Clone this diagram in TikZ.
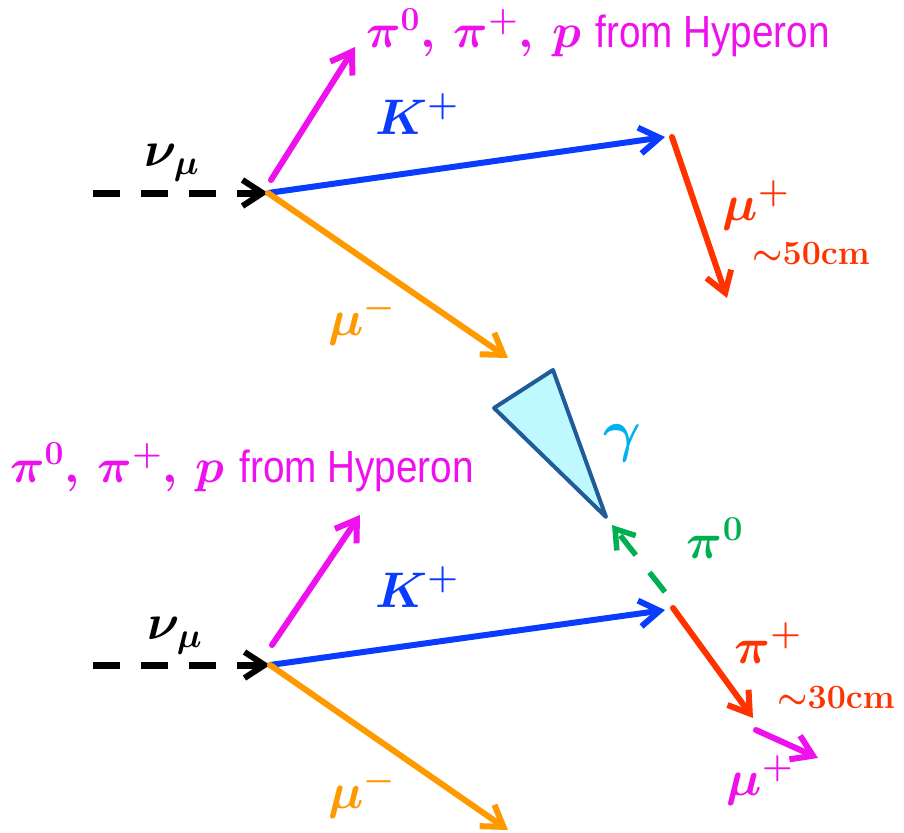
\RequirePackage{fix-cm}
\documentclass[tikz,border=0pt]{standalone}
\usepackage{amsmath}
\usepackage{fontspec}
\newfontfamily\hypfont[FakeStretch=0.86]{Liberation Sans}
\usepackage{tikz}
\usetikzlibrary{arrows.meta, positioning}

\definecolor{trkmag}{HTML}{EE11EE}
\definecolor{trkblue}{HTML}{0A3CFF}
\definecolor{trkorange}{HTML}{FF9900}
\definecolor{trkred}{HTML}{FF3300}
\definecolor{trkgreen}{HTML}{00B050}
\definecolor{gamsky}{HTML}{00B0F0}
\definecolor{showerline}{HTML}{1F5C99}
\definecolor{showerfill}{HTML}{C0F8FF}

\newcommand{\hyptext}{$\boldsymbol{\pi^0,\,\pi^+,\,p}$ {\hypfont\fontsize{45}{47}\selectfont from Hyperon}}

\begin{document}
\begin{tikzpicture}[
  x=1pt, y=-1pt,
  tip/.style={-{Straight Barb[length=20pt, width=26pt, line width=6pt]}},
  trk/.style={line width=6pt, line cap=round, tip},
  nu/.style={line width=7pt, dash pattern=on 27pt off 21pt, tip},
  pizero/.style={line width=5.5pt, dash pattern=on 25pt off 22pt, -{Straight Barb[length=18pt, width=24pt, line width=5.5pt]}},
  lbl/.style={inner sep=0pt, font=\fontsize{50}{54}\selectfont},
  hyp/.style={inner sep=0pt, anchor=base west, trkmag, font=\fontsize{48}{50}\selectfont},
  rng/.style={inner sep=0pt, font=\fontsize{34}{38}\selectfont\bfseries}
]
  \useasboundingbox (0,0) rectangle (904,832);

  % ---- upper event: K+ -> mu+
  \coordinate (nuA) at (93,193);
  \coordinate (vtxA) at (268,193);
  \coordinate (hypA) at (355,47);
  \coordinate (kA) at (665,137);
  \coordinate (kdA) at (672,137);
  \coordinate (muA) at (727,298);
  \coordinate (mumA) at (508,358);

  \draw[nu] (nuA) -- (vtxA);
  \draw[trk, trkmag] ([shift={(3,-13)}]vtxA) -- (hypA);
  \draw[trk, trkblue] (vtxA) -- (kA);
  \draw[trk, trkorange] (vtxA) -- (mumA);
  \draw[trk, trkred] (kdA) -- (muA);

  \node[hyp] (hyplA) at (366,48) {\hyptext};
  \node[lbl] (nulA) at (172,163) {$\boldsymbol{\nu_\mu}$};
  \node[lbl, trkblue] (klA) at (417,114) {$\boldsymbol{K^+}$};
  \node[lbl, trkorange] (mumlA) at (362,320) {$\boldsymbol{\mu^-}$};
  \node[lbl, trkred] (mulA) at (756,205) {$\boldsymbol{\mu^+}$};
  \node[rng, trkred] (rngA) at (811,254) {$\boldsymbol{\sim}$50cm};

  % ---- lower event: K+ -> pi+ pi0
  \coordinate (nuB) at (93,665);
  \coordinate (vtxB) at (270,665);
  \coordinate (hypB) at (360,515);
  \coordinate (kB) at (665,610);
  \coordinate (kdB) at (673,608);
  \coordinate (piB) at (753,718);
  \coordinate (mudB) at (756,730);
  \coordinate (muB) at (818,758);
  \coordinate (mumB) at (508,830);
  \coordinate (pzB) at (665,592);
  \coordinate (gamB) at (612,525);

  \draw[nu] (nuB) -- (vtxB);
  \draw[trk, trkmag] ([shift={(2,-20)}]vtxB) -- (hypB);
  \draw[trk, trkblue] (vtxB) -- (kB);
  \draw[trk, trkorange] (vtxB) -- (mumB);
  \draw[trk, trkred] (kdB) -- (piB);
  \draw[trk, trkmag] (mudB) -- (muB);
  \draw[pizero, trkgreen] (pzB) -- (gamB);

  % photon shower
  \draw[showerline, fill=showerfill, line width=4pt, line join=round]
    (494,408) coordinate (shA) -- (553,370) coordinate (shB) -- (606,517) coordinate (shC) -- cycle;

  \node[hyp] (hyplB) at (10,482) {\hyptext};
  \node[lbl] (nulB) at (175,636) {$\boldsymbol{\nu_\mu}$};
  \node[lbl, trkblue] (klB) at (417,587) {$\boldsymbol{K^+}$};
  \node[lbl, trkorange] (mumlB) at (362,793) {$\boldsymbol{\mu^-}$};
  \node[lbl, gamsky, font=\fontsize{58}{60}\selectfont] (gaml) at (622,443) {$\boldsymbol{\gamma}$};
  \node[lbl, trkgreen] (pzl) at (715,538) {$\boldsymbol{\pi^0}$};
  \node[lbl, trkred] (pil) at (768,643) {$\boldsymbol{\pi^+}$};
  \node[rng, trkred] (rngB) at (836,698) {$\boldsymbol{\sim}$30cm};
  \node[lbl, trkmag] (mulB) at (760,780) {$\boldsymbol{\mu^+}$};
\end{tikzpicture}
\end{document}
